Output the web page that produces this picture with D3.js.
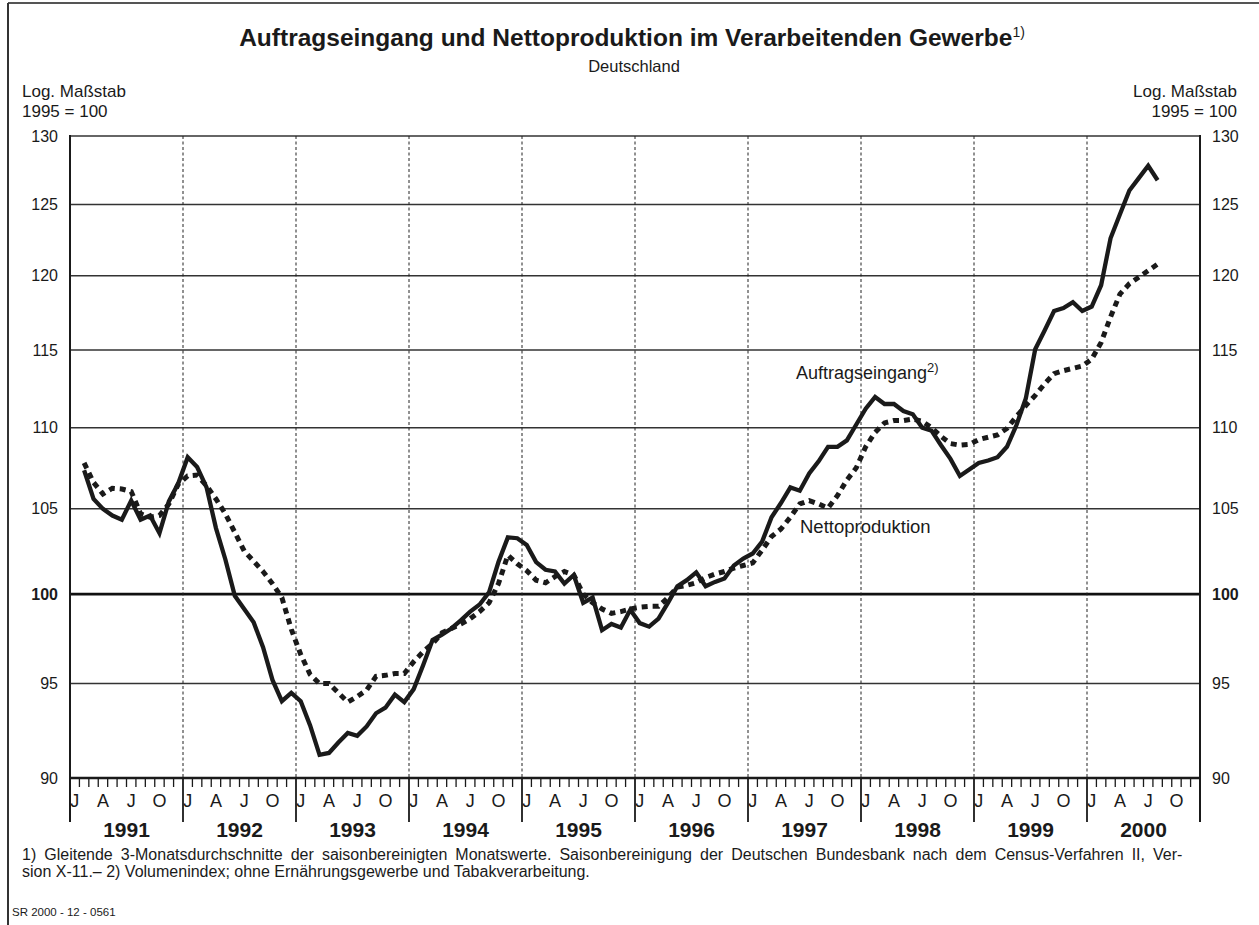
<!DOCTYPE html>
<html><head><meta charset="utf-8">
<script src="https://cdn.jsdelivr.net/npm/d3@7"></script>
<style>
body{margin:0;background:#fff;}
svg text{font-family:"Liberation Sans",Arial,Helvetica,sans-serif;fill:#1a1a1a;}
</style></head>
<body><svg id="c" width="1259" height="925"></svg>
<script>
// ---- data ----
const years = [1991,1992,1993,1994,1995,1996,1997,1998,1999,2000];
const monthLabels = ["J","A","J","O"];
const monthLabelIdx = [0,3,6,9];
const yTicks = [90,95,100,105,110,115,120,125,130];
const firstMonthIndex = 1; // Feb 1991 (3-month centred averages)
const auftragseingang = [
107.35,105.6,105.0,104.6,104.35,105.5,104.35,104.6,103.55,105.45,106.55,
108.15,107.55,106.3,103.85,102.0,99.9,99.15,98.4,97.0,95.2,94.05,94.5,
94.05,92.75,91.2,91.3,91.85,92.35,92.2,92.7,93.4,93.7,94.4,94.0,
94.7,96.0,97.4,97.7,98.05,98.5,99.0,99.4,100.1,101.85,103.3,103.25,
102.85,101.85,101.4,101.3,100.6,101.1,99.5,99.8,97.95,98.3,98.1,99.1,
98.35,98.15,98.6,99.5,100.45,100.8,101.25,100.45,100.7,100.9,101.65,102.05,
102.35,103.05,104.5,105.35,106.3,106.1,107.15,107.9,108.8,108.8,109.2,110.2,
111.2,111.95,111.5,111.5,111.05,110.85,110.0,109.8,108.9,108.05,107.0,107.4,
107.8,107.95,108.15,108.8,110.15,111.85,115.05,116.3,117.6,117.8,118.2,117.6,
117.9,119.35,122.6,124.3,126.0,126.9,127.8,126.75];
const nettoproduktion = [
107.8,106.6,105.9,106.25,106.2,106.05,104.7,104.5,104.6,105.3,106.5,
107.0,107.05,106.4,105.6,104.7,103.6,102.5,101.9,101.3,100.6,99.8,98.0,
96.6,95.5,95.0,95.0,94.5,94.0,94.3,94.65,95.4,95.45,95.55,95.55,
96.2,96.75,97.2,97.8,98.05,98.3,98.6,99.0,99.5,100.6,102.25,101.75,
101.35,100.8,100.65,101.0,101.3,101.1,100.0,99.5,99.15,98.9,99.0,99.15,
99.25,99.3,99.3,99.8,100.4,100.5,100.65,100.95,101.15,101.3,101.5,101.65,
101.8,102.55,103.35,103.8,104.5,105.3,105.5,105.3,105.05,105.8,106.75,107.5,
108.8,109.7,110.3,110.45,110.45,110.55,110.4,110.0,109.45,109.0,108.9,108.95,
109.25,109.4,109.55,109.95,110.7,111.4,112.05,112.8,113.45,113.65,113.8,113.95,
114.4,115.5,117.2,118.75,119.45,119.9,120.35,120.8];

// ---- layout ----
const L=70,R=1200,T=136,B=778;
const svg=d3.select("#c");
const x=d3.scaleLinear().domain([0,years.length*12]).range([L,R]);
const y=d3.scaleLog().domain([90,130]).range([B,T]);

// frame
svg.append("line").attr("x1",8).attr("x2",1259).attr("y1",3).attr("y2",3).attr("stroke","#555").attr("stroke-width",2);
svg.append("line").attr("x1",8).attr("x2",8).attr("y1",3).attr("y2",925).attr("stroke","#333").attr("stroke-width",2);

// title
const t=svg.append("text").attr("x",632).attr("y",46).attr("text-anchor","middle")
  .style("font-size","24.5px").style("font-weight","bold");
t.append("tspan").text("Auftragseingang und Nettoproduktion im Verarbeitenden Gewerbe");
t.append("tspan").text("1)").attr("dy",-9).style("font-size","14px").style("font-weight","normal");
svg.append("text").attr("x",634).attr("y",72).attr("text-anchor","middle").style("font-size","16.5px").text("Deutschland");
[["Log. Maßstab",97],["1995 = 100",117]].forEach(([s,yy])=>{
  svg.append("text").attr("x",22).attr("y",yy).style("font-size","17px").text(s);
  svg.append("text").attr("x",1237).attr("y",yy).attr("text-anchor","end").style("font-size","17px").text(s);
});

// horizontal gridlines
const gy=svg.append("g");
yTicks.forEach(v=>{
  if(v===90) return;
  gy.append("line").attr("x1",L).attr("x2",R).attr("y1",y(v)).attr("y2",y(v))
    .attr("stroke",v===100?"#111":"#333").attr("stroke-width",v===100?2.8:1.5);
});
// y axis labels via d3 axes (both sides)
const axL=d3.axisLeft(y).tickValues(yTicks).tickSize(0).tickPadding(12).tickFormat(d3.format("d"));
const axR=d3.axisRight(y).tickValues(yTicks).tickSize(0).tickPadding(12).tickFormat(d3.format("d"));
const gL=svg.append("g").attr("transform",`translate(${L},0)`).call(axL);
const gR=svg.append("g").attr("transform",`translate(${R},0)`).call(axR);
[gL,gR].forEach(g=>{
  g.select(".domain").remove();
  g.selectAll("text").style("font-size","16px").style("font-family","Liberation Sans,Arial,sans-serif").attr("fill","#1a1a1a")
   .style("font-weight",d=>d===100?"bold":"normal");
});

// vertical dashed year lines
for(let i=1;i<years.length;i++){
  svg.append("line").attr("x1",x(i*12)).attr("x2",x(i*12)).attr("y1",T).attr("y2",B)
   .attr("stroke","#222").attr("stroke-width",1).attr("stroke-dasharray","3,2.5");
}
// frame of plot
svg.append("line").attr("x1",L).attr("x2",L).attr("y1",T-1).attr("y2",822).attr("stroke","#1a1a1a").attr("stroke-width",2);
svg.append("line").attr("x1",R).attr("x2",R).attr("y1",T-1).attr("y2",822).attr("stroke","#1a1a1a").attr("stroke-width",2);
svg.append("line").attr("x1",L).attr("x2",R).attr("y1",B).attr("y2",B).attr("stroke","#1a1a1a").attr("stroke-width",2.4);

// month ticks & year separators
for(let m=0;m<=years.length*12;m++){
  const isYear=m%12===0;
  svg.append("line").attr("x1",x(m)).attr("x2",x(m)).attr("y1",B).attr("y2",isYear?822:787)
   .attr("stroke","#1a1a1a").attr("stroke-width",isYear?1.8:1.3);
}
years.forEach((yr,i)=>{
  monthLabelIdx.forEach((mi,k)=>{
    svg.append("text").attr("x",x(i*12+mi+0.5)).attr("y",807).attr("text-anchor","middle")
     .style("font-size","18px").text(monthLabels[k]);
  });
  svg.append("text").attr("x",x(i*12+6)).attr("y",837).attr("text-anchor","middle")
   .style("font-size","21px").style("font-weight","bold").text(yr);
});

// lines
const line=d3.line().x((d,i)=>x(firstMonthIndex+i+0.5)).y(d=>y(d));
svg.append("path").datum(nettoproduktion).attr("d",line).attr("fill","none")
  .attr("stroke","#1a1a1a").attr("stroke-width",5).attr("stroke-dasharray","6,5");
svg.append("path").datum(auftragseingang).attr("d",line).attr("fill","none")
  .attr("stroke","#1a1a1a").attr("stroke-width",4.3).attr("stroke-linejoin","miter");

// annotations
const a=svg.append("text").attr("x",796).attr("y",379).style("font-size","18px");
a.append("tspan").text("Auftragseingang");
a.append("tspan").text("2)").attr("dy",-7).style("font-size","13px");
svg.append("text").attr("x",800).attr("y",533).style("font-size","18.5px").text("Nettoproduktion");

// footnotes
svg.append("text").attr("x",22).attr("y",860).style("font-size","16px").style("word-spacing","3.6px")
 .text("1) Gleitende 3-Monatsdurchschnitte der saisonbereinigten Monatswerte. Saisonbereinigung der Deutschen Bundesbank nach dem Census-Verfahren II, Ver-");
svg.append("text").attr("x",22).attr("y",877).style("font-size","16px")
 .text("sion X-11.– 2) Volumenindex; ohne Ernährungsgewerbe und Tabakverarbeitung.");
svg.append("text").attr("x",12).attr("y",916).style("font-size","11.5px").text("SR 2000 - 12 - 0561");
</script></body></html>
